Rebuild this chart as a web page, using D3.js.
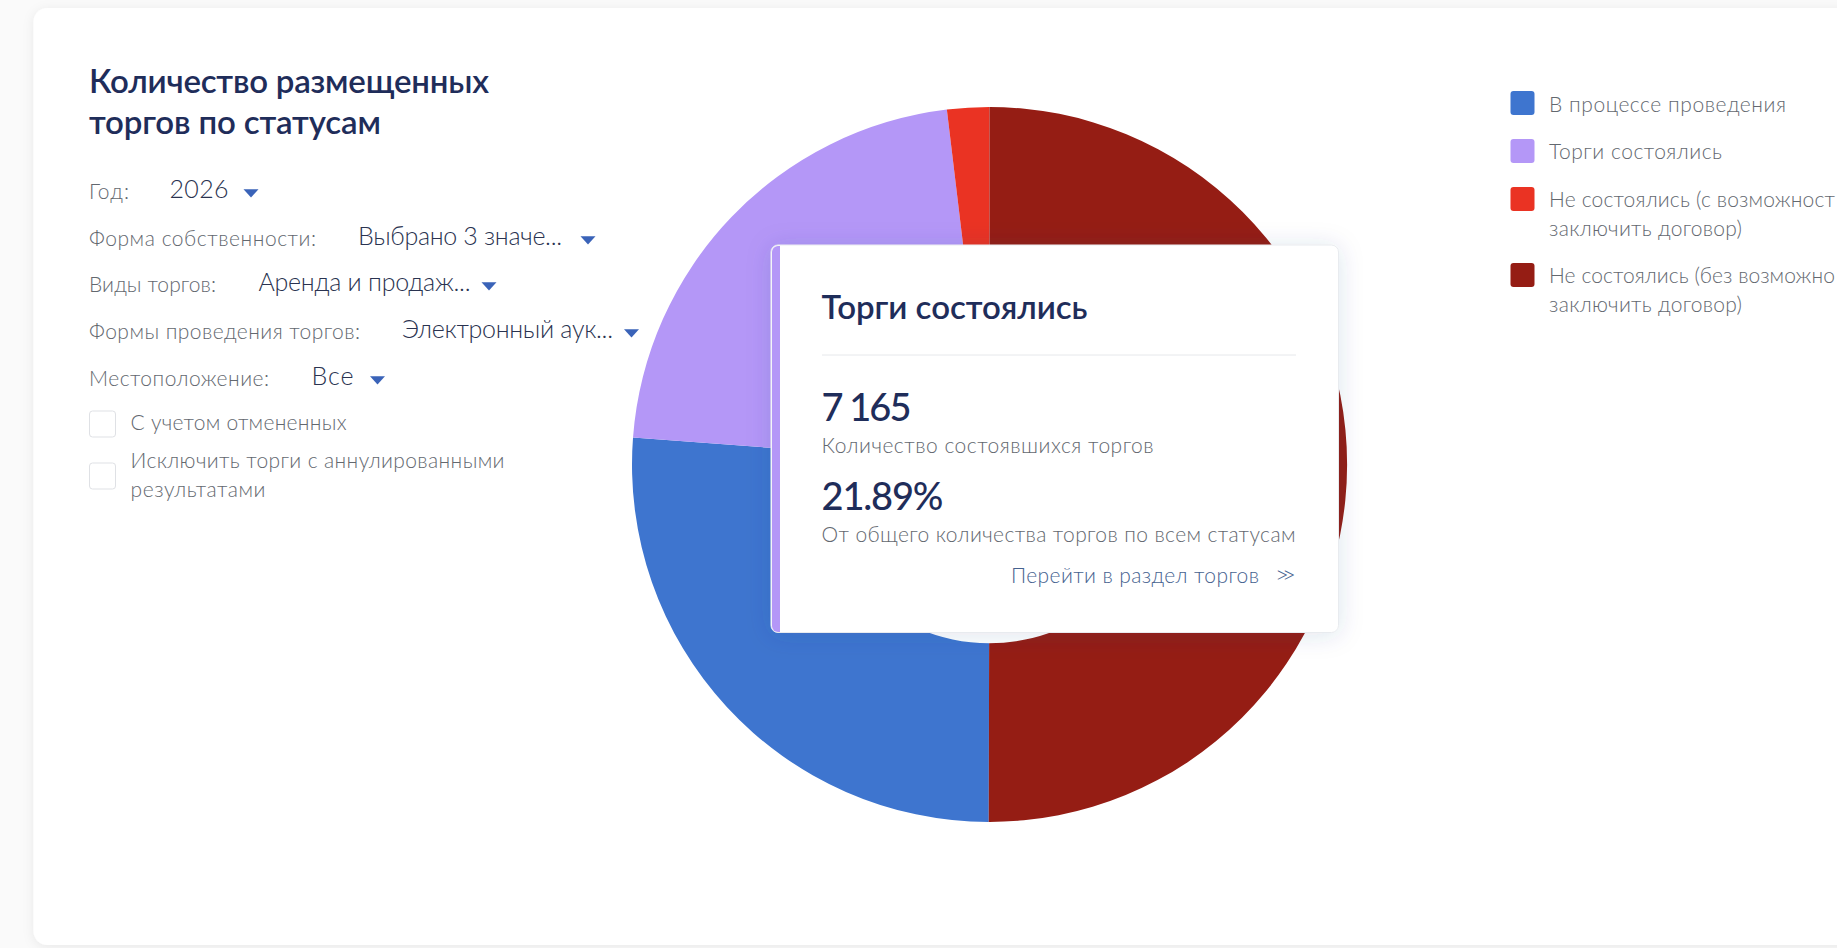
<!DOCTYPE html>
<html lang="ru">
<head>
<meta charset="utf-8">
<title>Количество размещенных торгов по статусам</title>
<script src="https://cdn.jsdelivr.net/npm/d3@7"></script>
<style>
   html, body { margin: 0; padding: 0; overflow: hidden; background: #fafafa; }
   svg { display: block; }
   text { font-family: Lato, "Noto Sans", sans-serif; }
</style>
</head>
<body>
<script>
"use strict"

// статусы и значения (от нижней точки круга по часовой стрелке)
// легенда на картинке обрезана краем окна, поэтому подписи такие
const statuses = ['В процессе проведения', 'Торги состоялись', 'Не состоялись (с возможност', 'Не состоялись (без возможно']
const statusSecondLine = [null, null, 'заключить договор)', 'заключить договор)']
const counts = [8567, 7165, 623, 16377]
const colors = ['#3e75cf', '#b497f7', '#ea3323', '#951d14']

const titleLines = ['Количество размещенных', 'торгов по статусам']
const filterLabels = ['Год:', 'Форма собственности:', 'Виды торгов:', 'Формы проведения торгов:', 'Местоположение:']
const filterValues = ['2026', 'Выбрано 3 значе...', 'Аренда и продаж...', 'Электронный аук...', 'Все']
const check1 = ['С учетом отмененных']
const check2 = ['Исключить торги с аннулированными', 'результатами']

const w = 1837
const h = 948
const dark = '#1f2d5a'
const grey = '#63686f'
const link = '#46628f'

const svg = d3.select('body')
   .append('svg')
      .attr('width', w)
      .attr('height', h)

const defs = svg.append('defs')
const shadow = (id, blur, op, color) => defs.append('filter')
      .attr('id', id)
      .attr('x', '-20%').attr('y', '-20%').attr('width', '140%').attr('height', '140%')
   .append('feDropShadow')
      .attr('dx', 0).attr('dy', 2)
      .attr('stdDeviation', blur)
      .attr('flood-color', color)
      .attr('flood-opacity', op)
shadow('card-shadow', 6, 0.07, '#000')
shadow('tip-shadow', 12, 0.14, '#2a4a80')

// пишет текст и подгоняет его под ширину с картинки
const label = (x, y, str, size, color, weight, width) => {
   const t = svg.append('text')
      .attr('x', x)
      .attr('y', y)
      .attr('font-size', size)
      .attr('font-weight', weight)
      .attr('fill', color)
      .text(str)
   if (width) t.attr('textLength', width).attr('lengthAdjust', 'spacing')
   return t
}

// карточка
svg.append('rect')
   .attr('x', 33.5).attr('y', 8)
   .attr('width', w + 40).attr('height', 937)
   .attr('rx', 14)
   .attr('fill', '#fff')
   .attr('filter', 'url(#card-shadow)')

// заголовок
const titleY = [93, 134]
const titleW = [400, 292]
titleLines.forEach((s, i) => label(89, titleY[i], s, 33, dark, 600, titleW[i]))

// фильтры
const labelW = [40, 227, 127, 271, 180]
const valueX = [169.5, 358, 258.5, 402, 311.5]
const valueW = [59, 204, 212, 211, 42]
const arrowX = [251, 588, 489, 631.5, 377.5]
const rowY = [199, 246, 292, 339, 386]

const triangle = d3.symbol().type(d3.symbolTriangle).size(62)
filterLabels.forEach((s, i) => {
   label(89, rowY[i], s, 21, grey, 300, labelW[i])
   label(valueX[i], rowY[i] - 1, filterValues[i], 25, '#2a3350', 300, valueW[i])
   svg.append('path')
      .attr('d', triangle())
      .attr('transform', `translate(${arrowX[i]}, ${rowY[i] - 7}) rotate(180) scale(1.25, 0.8)`)
      .attr('fill', '#3a63b8')
})

// чекбоксы
const checkBox = y => svg.append('rect')
   .attr('x', 89.5).attr('y', y)
   .attr('width', 26).attr('height', 26)
   .attr('rx', 3)
   .attr('fill', '#fff')
   .attr('stroke', '#dfe1e5')
checkBox(411)
checkBox(463)
label(130.5, 430, check1[0], 21, grey, 300, 216)
label(130.5, 468, check2[0], 21, grey, 300, 374)
label(130.5, 496.5, check2[1], 21, grey, 300, 135)

// круг
const total = d3.sum(counts)
const cx = 989.5
const cy = 464.5
const r = 357.5
// граница красного и тёмно-красного сектора стоит ровно наверху
const start = 2 * Math.PI * counts[3] / total
const pie = d3.pie()
   .sort(null)
   .startAngle(start)
   .endAngle(start + 2 * Math.PI)
const arc = d3.arc().innerRadius(r / 2).outerRadius(r)

svg.append('g')
      .attr('transform', `translate(${cx}, ${cy})`)
   .selectAll('path')
   .data(pie(counts))
   .enter()
   .append('path')
      .attr('d', arc)
      .attr('fill', (d, i) => colors[i])

// подсказка
const tip = svg.append('g')
tip.append('rect')
   .attr('x', 771).attr('y', 245)
   .attr('width', 567.5).attr('height', 387.5)
   .attr('rx', 7)
   .attr('fill', '#fff')
   .attr('stroke', '#e8ebef')
   .attr('filter', 'url(#tip-shadow)')
tip.append('path')
   .attr('d', 'M780 246 H778 A6 6 0 0 0 772 252 V626 A6 6 0 0 0 778 632 H780 Z')
   .attr('fill', colors[1])

label(821.5, 318.5, 'Торги состоялись', 33, dark, 600, 266)
svg.append('line')
   .attr('x1', 822).attr('x2', 1296)
   .attr('y1', 355).attr('y2', 355)
   .attr('stroke', '#e6e8eb')
label(821.5, 420.5, d3.format(',')(counts[1]).replace(',', ' '), 38, dark, 500, 90)
label(821.5, 453, 'Количество состоявшихся торгов', 21, grey, 300, 332)
label(821.5, 510, (counts[1] / total * 100).toFixed(2) + '%', 38, dark, 500, 122)
label(821.5, 542, 'От общего количества торгов по всем статусам', 21, grey, 300, 474)
label(1011, 583, 'Перейти в раздел торгов', 21, link, 300, 248)
label(1275, 583, '>>', 24, link, 300, 21)

// легенда
const swatchY = [91, 139, 187, 263]
const legendY = [111.5, 159, 207, 283]
const legendW = [237, 173, 286, 286]
statuses.forEach((s, i) => {
   svg.append('rect')
      .attr('x', 1510.5).attr('y', swatchY[i])
      .attr('width', 24).attr('height', 24)
      .attr('rx', 3)
      .attr('fill', colors[i])
   label(1549, legendY[i], s, 21, grey, 300, legendW[i])
   if (statusSecondLine[i]) label(1549, legendY[i] + 29, statusSecondLine[i], 21, grey, 300, 193)
})
</script>
</body>
</html>
